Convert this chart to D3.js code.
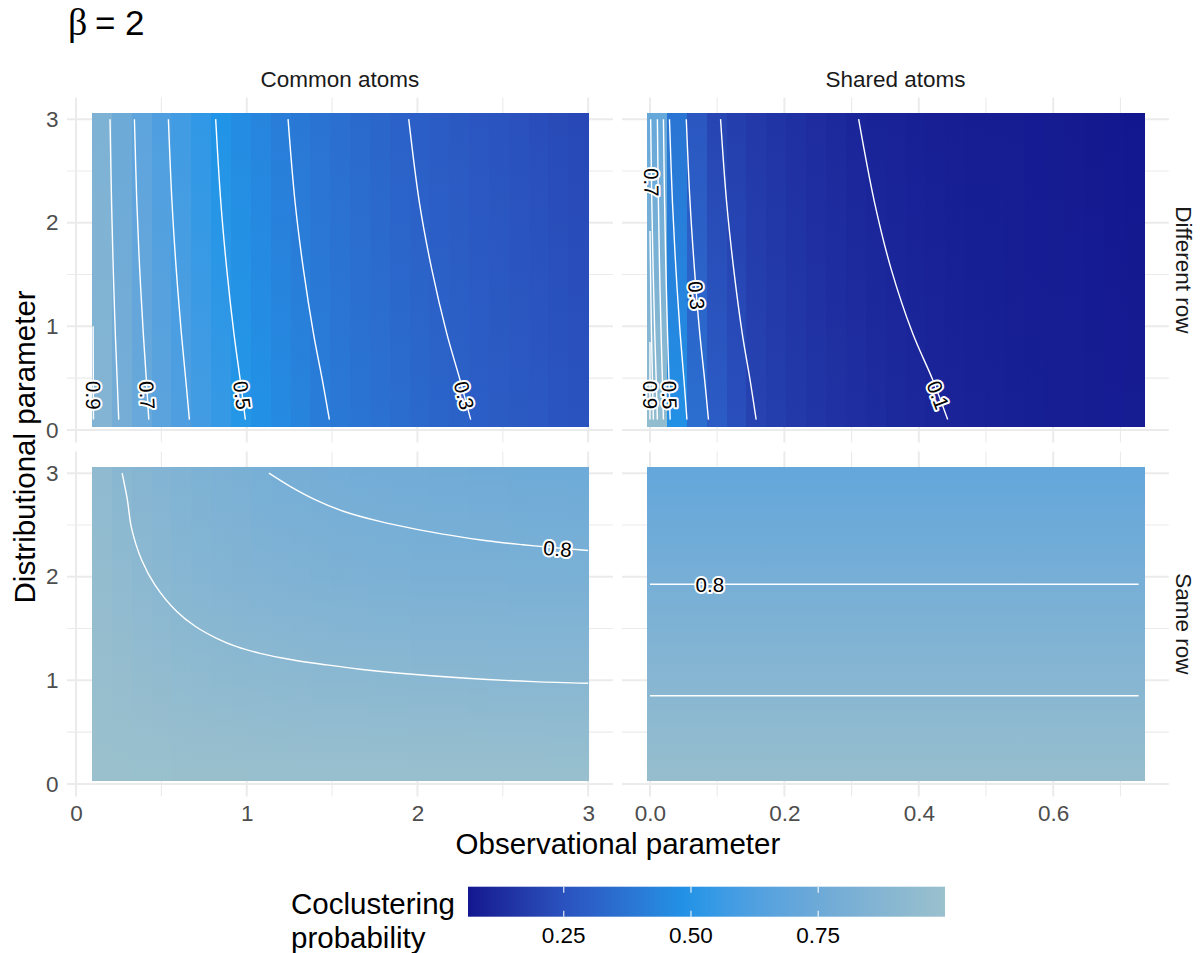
<!DOCTYPE html>
<meta charset="utf-8">
<style>

body {
  margin: 0;
  background: #fff;
}

text {
  font-family: "Liberation Sans", Arial, sans-serif;
}

.grid-major {
  stroke: #ebebeb;
  stroke-width: 2;
}

.grid-minor {
  stroke: #ebebeb;
  stroke-width: 1.1;
}

.contour {
  fill: none;
  stroke: #fff;
  stroke-width: 1.4;
}

.clabel {
  font-size: 20.5px;
  fill: #000;
  stroke: #fff;
  stroke-width: 4px;
  stroke-linejoin: round;
  paint-order: stroke;
}

.tick text {
  font-size: 22.5px;
  fill: #4d4d4d;
}

</style>
<svg></svg>
<script src="https://cdn.jsdelivr.net/npm/d3@7"></script>
<script>

var width = 1203,
    height = 953;

var colFacets = ["Common atoms", "Shared atoms"];
var rowFacets = ["Different row", "Same row"];

// raster: 25 columns per panel, full height
var commonXExtent = [0.094, 3.0];
var sharedXExtent = [-0.0045, 0.7354];
var cellYExtent = [0.032, 3.063];

// coclustering probability per column, read at the y values in *RowsY
var diffRowsY = [0.1, 3.0];
var commonDiffY01 = [0.865, 0.790, 0.724, 0.668, 0.620, 0.579, 0.544, 0.508, 0.482, 0.458, 0.434, 0.411, 0.392,
                     0.378, 0.364, 0.350, 0.336, 0.322, 0.308, 0.296, 0.288, 0.280, 0.271, 0.263, 0.254];
var commonDiffY3  = [0.839, 0.752, 0.679, 0.620, 0.573, 0.531, 0.493, 0.465, 0.438, 0.410, 0.390, 0.373, 0.357,
                     0.340, 0.324, 0.307, 0.295, 0.285, 0.275, 0.266, 0.256, 0.246, 0.237, 0.227, 0.217];
var sharedDiffY01 = [0.950, 0.480, 0.355, 0.283, 0.241, 0.200, 0.183, 0.168, 0.155, 0.144, 0.134, 0.125, 0.117,
                     0.110, 0.104, 0.098, 0.094, 0.091, 0.088, 0.085, 0.083, 0.081, 0.079, 0.077, 0.075];
var sharedDiffY3  = [0.720, 0.380, 0.270, 0.207, 0.183, 0.166, 0.152, 0.139, 0.127, 0.115, 0.103, 0.097, 0.093,
                     0.089, 0.086, 0.083, 0.080, 0.078, 0.076, 0.074, 0.072, 0.070, 0.067, 0.065, 0.062];

var sameRowsY = [0.1, 1, 2, 3];
var commonSameY01 = [0.998, 0.996, 0.995, 0.994, 0.993, 0.992, 0.991, 0.990, 0.989, 0.989, 0.988, 0.988, 0.987,
                     0.987, 0.986, 0.986, 0.986, 0.985, 0.985, 0.985, 0.984, 0.984, 0.984, 0.983, 0.983];
var commonSameY1  = [0.979, 0.968, 0.957, 0.948, 0.940, 0.933, 0.928, 0.923, 0.919, 0.916, 0.913, 0.911, 0.909,
                     0.907, 0.906, 0.904, 0.903, 0.902, 0.901, 0.900, 0.899, 0.899, 0.898, 0.898, 0.897];
var commonSameY2  = [0.958, 0.935, 0.912, 0.895, 0.882, 0.872, 0.864, 0.857, 0.851, 0.846, 0.841, 0.837, 0.833,
                     0.830, 0.827, 0.825, 0.823, 0.821, 0.820, 0.819, 0.818, 0.817, 0.816, 0.815, 0.814];
var commonSameY3  = [0.930, 0.900, 0.878, 0.862, 0.849, 0.838, 0.828, 0.819, 0.802, 0.797, 0.792, 0.788, 0.784,
                     0.781, 0.778, 0.775, 0.772, 0.770, 0.768, 0.766, 0.764, 0.762, 0.760, 0.758, 0.756];
// shared atoms / same row does not change along x
var sharedSameProfile = [0.968, 0.886, 0.793, 0.708];

// contour lines, [observational, distributional]
var commonDiffLines = [
  {level: 0.9, pts: [[0.100, 1.00], [0.101, 0.55], [0.102, 0.10]]},
  {level: 0.8, pts: [[0.199, 3.0], [0.208, 2.2], [0.218, 1.55], [0.230, 0.93], [0.241, 0.48], [0.250, 0.1]]},
  {level: 0.7, pts: [[0.342, 3.0], [0.356, 2.2], [0.373, 1.55], [0.394, 0.93], [0.412, 0.48], [0.426, 0.1]]},
  {level: 0.6, pts: [[0.541, 3.0], [0.562, 2.2], [0.587, 1.55], [0.617, 0.93], [0.643, 0.48], [0.664, 0.1]]},
  {level: 0.5, pts: [[0.818, 3.0], [0.848, 2.2], [0.883, 1.55], [0.925, 0.93], [0.962, 0.48], [0.992, 0.1]]},
  {level: 0.4, pts: [[1.242, 3.0], [1.283, 2.2], [1.332, 1.55], [1.391, 0.93], [1.443, 0.48], [1.484, 0.1]]},
  {level: 0.3, pts: [[1.949, 3.0], [2.011, 2.2], [2.084, 1.55], [2.172, 0.93], [2.250, 0.48], [2.312, 0.1]]}
];
var sharedDiffLines = [
  {level: 0.9, pts: [[0.000, 0.85], [0.000, 0.1]]},
  {level: 0.8, pts: [[0.000, 1.92], [0.002, 1.0], [0.005, 0.1]]},
  {level: 0.7, pts: [[0.001, 3.0], [0.0027, 2.2], [0.0047, 1.55], [0.0071, 0.93], [0.0093, 0.48], [0.011, 0.1]]},
  {level: 0.6, pts: [[0.011, 3.0], [0.0125, 2.2], [0.0143, 1.55], [0.0165, 0.93], [0.0185, 0.48], [0.020, 0.1]]},
  {level: 0.5, pts: [[0.020, 3.0], [0.0217, 2.2], [0.0237, 1.55], [0.0261, 0.93], [0.0283, 0.48], [0.030, 0.1]]},
  {level: 0.4, pts: [[0.029, 3.0], [0.0334, 2.2], [0.0386, 1.55], [0.0449, 0.93], [0.0506, 0.48], [0.055, 0.1]]},
  {level: 0.3, pts: [[0.054, 3.0], [0.0596, 2.2], [0.0662, 1.55], [0.0741, 0.93], [0.0814, 0.48], [0.087, 0.1]]},
  {level: 0.2, pts: [[0.105, 3.0], [0.114, 2.2], [0.1246, 1.55], [0.1373, 0.93], [0.149, 0.48], [0.158, 0.1]]},
  {level: 0.1, pts: [[0.3105, 3.0], [0.334, 2.2], [0.359, 1.55], [0.391, 0.93], [0.421, 0.48], [0.443, 0.1]]}
];
var commonSameLines = [
  {level: 0.9, pts: [[0.270, 3.0], [0.300, 2.75], [0.325, 2.47], [0.385, 2.16], [0.463, 1.92], [0.590, 1.665],
                     [0.700, 1.52], [0.824, 1.406], [0.941, 1.325], [1.078, 1.261], [1.273, 1.197], [1.469, 1.149],
                     [1.664, 1.107], [1.898, 1.068], [2.289, 1.02], [2.679, 0.988], [3.0, 0.972]]},
  {level: 0.8, pts: [[1.130, 3.0], [1.256, 2.871], [1.403, 2.743], [1.570, 2.630], [1.779, 2.534], [1.989, 2.460],
                     [2.198, 2.399], [2.407, 2.347], [2.617, 2.309], [2.826, 2.277], [3.0, 2.254]]}
];
var sharedSameLines = [
  {level: 0.8, pts: [[0.0, 1.928], [0.727, 1.928]]},
  {level: 0.9, pts: [[0.0, 0.852], [0.727, 0.852]]}
];

// contour labels: line index, position
var commonDiffLabels = [[0, 0.1015, 0.335], [2, 0.417, 0.335], [4, 0.973, 0.335], [6, 2.274, 0.335]];
var sharedDiffLabels = [[2, 0.0023, 2.39], [6, 0.0694, 1.30], [0, 0.0, 0.338], [4, 0.029, 0.338], [8, 0.429, 0.338]];
var commonSameLabels = [[1, 2.82, 2.272]];
var sharedSameLabels = [[0, 0.089, 1.928]];

var yMajor = [0, 1, 2, 3], yMinor = [0.5, 1.5, 2.5];
var commonMajor = [0, 1, 2, 3], commonMinor = [0.5, 1.5, 2.5];
var sharedMajor = [0, 0.2, 0.4, 0.6], sharedMinor = [0.1, 0.3, 0.5, 0.7];
var legendTicks = [0.25, 0.5, 0.75];
var fillLimits = [0.062, 0.999];

var svg = d3.select("svg")
    .attr("width", width)
    .attr("height", height);
var defs = svg.append("defs");

var color = d3.scaleLinear()
    .domain([0.062, 0.25, 0.5, 0.75, 0.999])
    .range(["#13178f", "#2a52be", "#1f96e8", "#6daad8", "#9ac0cd"])
    .interpolate(d3.interpolateLab)
    .clamp(true);

var xCommon = d3.scaleLinear().domain([-0.053, 3.145]).range([67, 612.9]);
var xShared = d3.scaleLinear().domain([-0.0415, 0.772]).range([622.1, 1168.8]);
var yDiff = d3.scaleLinear().domain([-0.12, 3.21]).range([442.4, 97.4]);
var ySame = d3.scaleLinear().domain([-0.12, 3.21]).range([796.4, 451.4]);

var panels = [
  {id: "cd", x: xCommon, y: yDiff, ext: commonXExtent, rowsY: diffRowsY, rows: [commonDiffY01, commonDiffY3],
   lines: commonDiffLines, labels: commonDiffLabels, major: commonMajor, minor: commonMinor},
  {id: "sd", x: xShared, y: yDiff, ext: sharedXExtent, rowsY: diffRowsY, rows: [sharedDiffY01, sharedDiffY3],
   lines: sharedDiffLines, labels: sharedDiffLabels, major: sharedMajor, minor: sharedMinor},
  {id: "cs", x: xCommon, y: ySame, ext: commonXExtent, rowsY: sameRowsY,
   rows: [commonSameY01, commonSameY1, commonSameY2, commonSameY3],
   lines: commonSameLines, labels: commonSameLabels, major: commonMajor, minor: commonMinor},
  {id: "ss", x: xShared, y: ySame, ext: sharedXExtent, rowsY: sameRowsY, rows: sharedSameProfile,
   lines: sharedSameLines, labels: sharedSameLabels, major: sharedMajor, minor: sharedMinor}
];

var ncol = 25;

panels.forEach(function(p) {
  var g = svg.append("g");
  var xr = p.x.range(), yr = p.y.range();

  // grid
  g.selectAll(".hmin").data(yMinor).enter().append("line")
      .attr("class", "grid-minor")
      .attr("x1", xr[0]).attr("x2", xr[1])
      .attr("y1", p.y).attr("y2", p.y);
  g.selectAll(".vmin").data(p.minor).enter().append("line")
      .attr("class", "grid-minor")
      .attr("y1", yr[0]).attr("y2", yr[1])
      .attr("x1", p.x).attr("x2", p.x);
  g.selectAll(".hmaj").data(yMajor).enter().append("line")
      .attr("class", "grid-major")
      .attr("x1", xr[0]).attr("x2", xr[1])
      .attr("y1", p.y).attr("y2", p.y);
  g.selectAll(".vmaj").data(p.major).enter().append("line")
      .attr("class", "grid-major")
      .attr("y1", yr[0]).attr("y2", yr[1])
      .attr("x1", p.x).attr("x2", p.x);

  // raster columns, each a vertical gradient through its row values
  var w = (p.ext[1] - p.ext[0]) / ncol;
  var y0 = p.rowsY[0], y1 = p.rowsY[p.rowsY.length - 1];
  d3.range(ncol).forEach(function(i) {
    var grad = defs.append("linearGradient")
        .attr("id", "g-" + p.id + "-" + i)
        .attr("gradientUnits", "userSpaceOnUse")
        .attr("x1", 0).attr("x2", 0)
        .attr("y1", p.y(y0)).attr("y2", p.y(y1));
    p.rowsY.forEach(function(ry, k) {
      var v = typeof p.rows[k] === "number" ? p.rows[k] : p.rows[k][i];
      grad.append("stop")
          .attr("offset", (ry - y0) / (y1 - y0))
          .attr("stop-color", color(v));
    });
    var a = p.x(p.ext[0] + i * w), b = p.x(p.ext[0] + (i + 1) * w);
    g.append("rect")
        .attr("x", a)
        .attr("width", b - a + 0.6)
        .attr("y", p.y(cellYExtent[1]))
        .attr("height", p.y(cellYExtent[0]) - p.y(cellYExtent[1]))
        .attr("shape-rendering", "crispEdges")
        .attr("fill", "url(#g-" + p.id + "-" + i + ")");
  });

  // contours
  var line = d3.line()
      .x(function(d) { return p.x(d[0]); })
      .y(function(d) { return p.y(d[1]); })
      .curve(d3.curveCatmullRom.alpha(0.5));

  g.selectAll(".contour").data(p.lines).enter().append("path")
      .attr("class", "contour")
      .attr("d", function(d) { return line(d.pts); });

  g.selectAll(".clabel").data(p.labels).enter().append("text")
      .attr("class", "clabel")
      .attr("text-anchor", "middle")
      .attr("dy", "0.36em")
      .attr("transform", function(d) {
        var pts = p.lines[d[0]].pts, best = 0, bd = Infinity;
        for (var k = 0; k < pts.length - 1; k++) {
          var mx = (p.x(pts[k][0]) + p.x(pts[k + 1][0])) / 2,
              my = (p.y(pts[k][1]) + p.y(pts[k + 1][1])) / 2,
              dd = Math.hypot(mx - p.x(d[1]), my - p.y(d[2]));
          if (dd < bd) { bd = dd; best = k; }
        }
        var dx = p.x(pts[best + 1][0]) - p.x(pts[best][0]),
            dy = p.y(pts[best + 1][1]) - p.y(pts[best][1]);
        var ang = Math.atan2(dy, dx) * 180 / Math.PI;
        if (ang > 90) ang -= 180;
        if (ang <= -90) ang += 180;
        return "translate(" + p.x(d[1]) + "," + p.y(d[2]) + ") rotate(" + ang + ")";
      })
      .text(function(d) { return p.lines[d[0]].level.toFixed(1); });
});

// axes
function styleAxis(sel) {
  sel.select(".domain").remove();
  sel.selectAll(".tick line").remove();
  sel.attr("font-family", null).attr("font-size", null);
}

svg.append("g").attr("transform", "translate(67,0)")
    .call(d3.axisLeft(yDiff).tickValues(yMajor).tickSize(0).tickPadding(8.5).tickFormat(d3.format("d")))
    .call(styleAxis);
svg.append("g").attr("transform", "translate(67,0)")
    .call(d3.axisLeft(ySame).tickValues(yMajor).tickSize(0).tickPadding(8.5).tickFormat(d3.format("d")))
    .call(styleAxis);
svg.append("g").attr("transform", "translate(0,796.4)")
    .call(d3.axisBottom(xCommon).tickValues(commonMajor).tickSize(0).tickPadding(8.6).tickFormat(d3.format("d")))
    .call(styleAxis);
svg.append("g").attr("transform", "translate(0,796.4)")
    .call(d3.axisBottom(xShared).tickValues(sharedMajor).tickSize(0).tickPadding(8.6).tickFormat(d3.format(".1f")))
    .call(styleAxis);

// strips
svg.selectAll(".colstrip").data(colFacets).enter().append("text")
    .attr("x", function(d, i) { var s = i ? xShared : xCommon; return (s.range()[0] + s.range()[1]) / 2; })
    .attr("y", 87.3)
    .attr("text-anchor", "middle")
    .style("font-size", "22.5px")
    .style("fill", "#1a1a1a")
    .text(function(d) { return d; });

svg.selectAll(".rowstrip").data(rowFacets).enter().append("text")
    .attr("transform", function(d, i) {
      var s = i ? ySame : yDiff;
      return "translate(1176," + (s.range()[0] + s.range()[1]) / 2 + ") rotate(90)";
    })
    .attr("text-anchor", "middle")
    .style("font-size", "22.5px")
    .style("fill", "#1a1a1a")
    .text(function(d) { return d; });

// axis titles
svg.append("text")
    .attr("x", (67 + 1168.8) / 2)
    .attr("y", 854)
    .attr("text-anchor", "middle")
    .style("font-size", "29.5px")
    .text("Observational parameter");

svg.append("text")
    .attr("transform", "translate(35," + (97.4 + 796.4) / 2 + ") rotate(-90)")
    .attr("text-anchor", "middle")
    .style("font-size", "29.5px")
    .text("Distributional parameter");

// title
var title = svg.append("text").attr("y", 35).style("font-size", "35px");
title.append("tspan").attr("x", 68).style("font-family", "'Liberation Serif', serif").style("font-size", "38px").text("β");
title.append("tspan").attr("x", 95).text("=");
title.append("tspan").attr("x", 125).text("2");

// legend
var lx = d3.scaleLinear().domain(fillLimits).range([468, 945]);
var lg = defs.append("linearGradient").attr("id", "legend-grad");
d3.range(0, 1.0001, 0.05).forEach(function(t) {
  lg.append("stop").attr("offset", t)
      .attr("stop-color", color(fillLimits[0] + t * (fillLimits[1] - fillLimits[0])));
});
svg.append("rect")
    .attr("x", 468).attr("y", 886.7)
    .attr("width", 945 - 468).attr("height", 30)
    .attr("fill", "url(#legend-grad)");

legendTicks.forEach(function(v) {
  [[886.7, 892.7], [910.7, 916.7]].forEach(function(yy) {
    svg.append("line")
        .attr("x1", lx(v)).attr("x2", lx(v))
        .attr("y1", yy[0]).attr("y2", yy[1])
        .attr("stroke", "#fff").attr("stroke-opacity", 0.8).attr("stroke-width", 1.3);
  });
  svg.append("text")
      .attr("x", lx(v)).attr("y", 943.3)
      .attr("text-anchor", "middle")
      .style("font-size", "22.5px")
      .text(d3.format(".2f")(v));
});

svg.append("text")
    .attr("x", 291).attr("y", 913.8)
    .style("font-size", "29.5px")
    .text("Coclustering");
svg.append("text")
    .attr("x", 291).attr("y", 947.8)
    .style("font-size", "29.5px")
    .text("probability");

</script>
